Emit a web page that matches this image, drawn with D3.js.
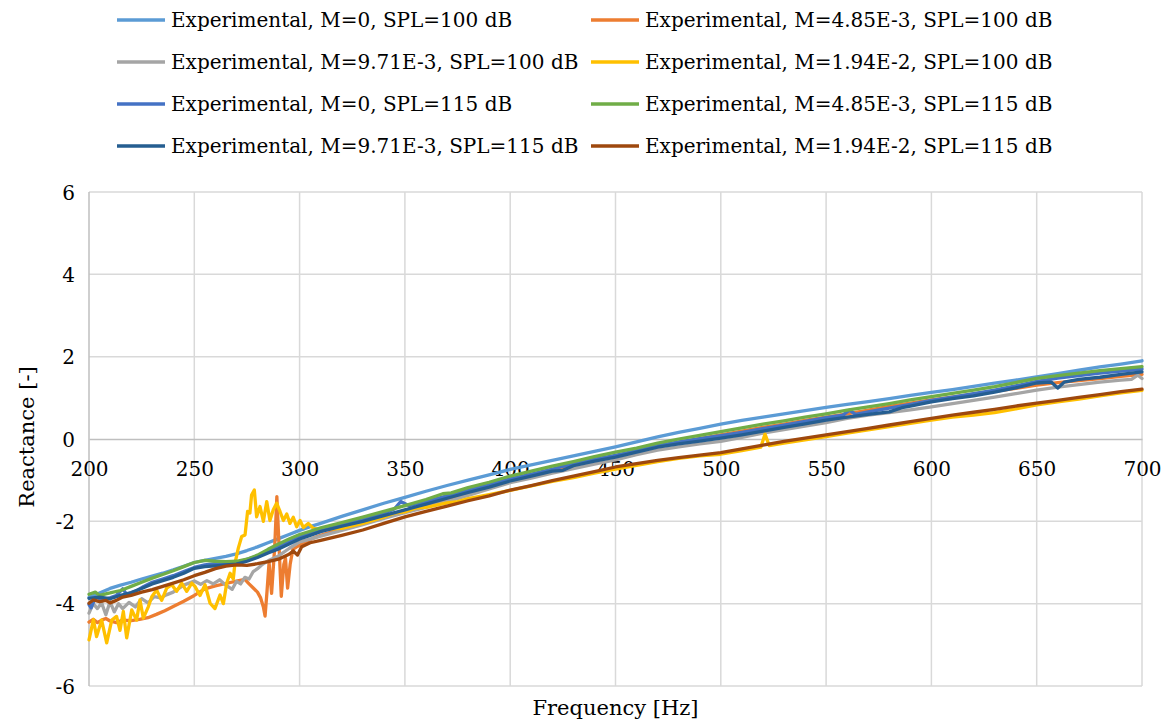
<!DOCTYPE html>
<html>
<head>
<meta charset="utf-8">
<script src="https://cdn.jsdelivr.net/npm/d3@7"></script>
<style>
  body { margin: 0; background: #fff; }
  svg { display: block; }
  text { font-family: "DejaVu Serif", "Liberation Serif", serif; fill: #000; }
</style>
</head>
<body>
<svg id="chart" width="1170" height="721"></svg>
<script>
// Axis ticks
const xTicks = [200, 250, 300, 350, 400, 450, 500, 550, 600, 650, 700];
const yTicks = [-6, -4, -2, 0, 2, 4, 6];

// Series labels and colours (legend order)
const seriesNames = [
  "Experimental, M=0, SPL=100 dB",
  "Experimental, M=4.85E-3, SPL=100 dB",
  "Experimental, M=9.71E-3, SPL=100 dB",
  "Experimental, M=1.94E-2, SPL=100 dB",
  "Experimental, M=0, SPL=115 dB",
  "Experimental, M=4.85E-3, SPL=115 dB",
  "Experimental, M=9.71E-3, SPL=115 dB",
  "Experimental, M=1.94E-2, SPL=115 dB"
];
const seriesColors = ["#5B9BD5", "#ED7D31", "#A5A5A5", "#FFC000", "#4472C4", "#70AD47", "#255E91", "#9E480E"];

// Measured reactance, [frequency Hz, reactance]
const m0_100 = [[200,-3.85],[205,-3.74],[210,-3.63],[215,-3.55],[220,-3.48],[225,-3.40],[230,-3.33],[235,-3.26],[240,-3.18],[245,-3.09],[250,-3.00],[255,-2.95],[260,-2.90],[265,-2.85],[270,-2.79],[275,-2.71],[280,-2.62],[285,-2.52],[290,-2.42],[295,-2.32],[300,-2.22],[305,-2.13],[310,-2.05],[320,-1.88],[330,-1.72],[340,-1.56],[350,-1.42],[360,-1.27],[370,-1.13],[380,-1.00],[390,-0.87],[400,-0.74],[410,-0.63],[420,-0.52],[430,-0.41],[440,-0.30],[450,-0.19],[460,-0.07],[470,0.05],[480,0.16],[490,0.26],[500,0.36],[510,0.45],[520,0.53],[530,0.61],[540,0.69],[550,0.77],[560,0.84],[570,0.91],[580,0.98],[590,1.06],[600,1.13],[610,1.20],[620,1.28],[630,1.36],[640,1.43],[650,1.51],[660,1.59],[670,1.67],[680,1.75],[690,1.82],[700,1.90]];

const m485_100 = [[200,-4.45],[202,-4.38],[204,-4.46],[206,-4.40],[208,-4.36],[210,-4.42],[213,-4.46],[216,-4.40],[220,-4.41],[224,-4.38],[228,-4.34],[232,-4.26],[236,-4.17],[240,-4.07],[245,-3.94],[250,-3.80],[255,-3.64],[260,-3.57],[265,-3.51],[270,-3.45],[274,-3.41],[276,-3.52],[278,-3.62],[280,-3.72],[281.5,-3.86],[282.8,-4.08],[283.6,-4.30],[284.5,-3.72],[285.5,-3.00],[286.7,-3.75],[288.2,-2.60],[289.2,-1.40],[290.2,-2.55],[291.3,-3.82],[292.5,-3.05],[293.3,-2.90],[294.3,-3.62],[295.5,-3.05],[296.8,-2.68],[298.6,-2.62],[300,-2.58],[303,-2.50],[306,-2.42],[310,-2.34],[320,-2.18],[330,-2.04],[340,-1.90],[350,-1.77],[360,-1.62],[370,-1.48],[380,-1.33],[390,-1.18],[400,-1.03],[410,-0.90],[420,-0.78],[430,-0.64],[440,-0.53],[450,-0.41],[460,-0.30],[470,-0.19],[480,-0.09],[490,0.01],[500,0.10],[510,0.19],[520,0.28],[530,0.36],[540,0.45],[550,0.53],[560,0.61],[570,0.70],[580,0.79],[590,0.87],[600,0.95],[610,1.02],[620,1.09],[630,1.16],[640,1.23],[650,1.31],[660,1.37],[670,1.42],[680,1.47],[690,1.52],[700,1.57]];

const m971_100 = [[200,-4.23],[202,-4.00],[204,-4.12],[206,-3.98],[208,-4.27],[210,-3.95],[212,-4.20],[214,-4.00],[216,-4.12],[219,-3.97],[222,-4.08],[225,-3.88],[228,-3.98],[231,-3.83],[234,-3.86],[237,-3.78],[240,-3.72],[245,-3.55],[250,-3.45],[253,-3.53],[256,-3.44],[259,-3.52],[262,-3.42],[265,-3.55],[268,-3.65],[270,-3.46],[272,-3.52],[274,-3.36],[276,-3.40],[278,-3.22],[280,-3.15],[282,-3.06],[285,-2.96],[290,-2.84],[295,-2.66],[300,-2.50],[305,-2.43],[310,-2.36],[320,-2.22],[330,-2.08],[340,-1.93],[350,-1.79],[360,-1.66],[370,-1.52],[380,-1.37],[390,-1.21],[400,-1.06],[410,-0.95],[420,-0.83],[430,-0.72],[440,-0.61],[450,-0.51],[460,-0.38],[470,-0.27],[480,-0.19],[490,-0.12],[500,-0.06],[510,0.04],[520,0.14],[530,0.23],[540,0.31],[550,0.40],[560,0.50],[570,0.58],[580,0.64],[590,0.71],[600,0.78],[610,0.86],[620,0.94],[630,1.02],[640,1.10],[650,1.19],[660,1.26],[670,1.32],[680,1.38],[690,1.43],[695,1.45],[698,1.55],[700,1.47]];

const m194_100 = [[200,-4.88],[202.1,-4.39],[203.6,-4.80],[206,-4.40],[208.4,-4.95],[210.8,-4.40],[213.1,-4.31],[214.7,-4.65],[216.3,-4.19],[217.9,-4.83],[220.3,-4.15],[222.6,-4.40],[224.2,-3.91],[225.8,-4.35],[228.2,-4.07],[229.8,-3.83],[232.1,-3.67],[234.5,-3.92],[236.9,-3.62],[239.3,-3.54],[241.6,-3.70],[244,-3.50],[246.4,-3.70],[248.8,-3.50],[250.3,-3.58],[252.7,-3.80],[255.1,-3.54],[257.5,-3.99],[259.8,-4.12],[262.2,-3.79],[263.8,-4.00],[265.4,-3.50],[267,-3.26],[268.5,-3.40],[269.3,-3.02],[270.9,-2.65],[272.5,-2.37],[274.1,-2.33],[275.3,-1.76],[276.4,-1.80],[277.2,-1.36],[278.5,-1.24],[279.6,-1.89],[281.2,-1.64],[282.8,-2.00],[284.4,-1.52],[285.9,-1.98],[287.5,-1.72],[289.1,-1.56],[290.7,-1.76],[292.3,-1.98],[293.9,-1.82],[295.4,-2.05],[297,-1.90],[298.6,-2.13],[300.2,-1.98],[301.8,-2.15],[304.1,-2.05],[306.5,-2.17],[310,-2.20],[320,-2.17],[330,-2.05],[340,-1.90],[345,-1.80],[350,-1.77],[355,-1.68],[360,-1.66],[370,-1.55],[375,-1.52],[380,-1.45],[390,-1.35],[400,-1.25],[410,-1.14],[420,-1.03],[430,-0.94],[440,-0.83],[450,-0.73],[460,-0.64],[470,-0.55],[480,-0.47],[490,-0.41],[500,-0.37],[510,-0.28],[519,-0.20],[521,0.12],[523,-0.16],[530,-0.10],[540,-0.02],[550,0.06],[560,0.14],[570,0.22],[580,0.30],[590,0.38],[600,0.46],[610,0.53],[620,0.58],[630,0.64],[640,0.73],[650,0.83],[660,0.90],[670,0.97],[680,1.05],[690,1.12],[700,1.18]];

const m0_115 = [[200,-4.02],[201,-4.10],[203,-3.85],[207,-3.90],[210,-3.86],[213,-3.80],[216,-3.64],[218,-3.78],[222,-3.70],[226,-3.58],[230,-3.48],[235,-3.40],[240,-3.32],[245,-3.22],[250,-3.12],[255,-3.06],[260,-3.03],[265,-3.02],[270,-3.00],[275,-2.92],[280,-2.84],[285,-2.72],[290,-2.62],[295,-2.50],[300,-2.38],[305,-2.28],[310,-2.20],[320,-2.08],[330,-1.95],[340,-1.80],[345,-1.70],[348,-1.52],[352,-1.62],[360,-1.52],[370,-1.38],[380,-1.24],[390,-1.11],[400,-0.97],[410,-0.85],[420,-0.73],[430,-0.60],[440,-0.49],[450,-0.40],[460,-0.28],[470,-0.16],[480,-0.07],[490,0.01],[500,0.08],[510,0.16],[520,0.25],[530,0.34],[540,0.43],[550,0.52],[558,0.58],[561,0.70],[564,0.60],[570,0.66],[580,0.75],[590,0.84],[600,0.94],[610,1.02],[620,1.10],[630,1.19],[640,1.29],[650,1.40],[660,1.48],[670,1.54],[680,1.60],[690,1.65],[700,1.70]];

const m485_115 = [[200,-3.77],[203,-3.72],[205,-3.80],[208,-3.76],[210,-3.74],[215,-3.68],[220,-3.58],[225,-3.48],[230,-3.38],[235,-3.29],[240,-3.20],[245,-3.10],[250,-3.00],[255,-2.95],[260,-2.97],[265,-2.98],[270,-2.97],[275,-2.92],[280,-2.82],[285,-2.68],[290,-2.55],[295,-2.43],[300,-2.32],[305,-2.24],[310,-2.16],[320,-2.03],[330,-1.90],[340,-1.76],[350,-1.62],[360,-1.47],[368,-1.33],[372,-1.31],[380,-1.18],[390,-1.05],[400,-0.90],[410,-0.78],[420,-0.66],[430,-0.55],[440,-0.43],[450,-0.32],[460,-0.22],[470,-0.10],[480,0.00],[490,0.09],[500,0.18],[510,0.27],[520,0.36],[530,0.44],[540,0.53],[550,0.61],[560,0.70],[570,0.78],[580,0.86],[590,0.95],[600,1.03],[610,1.11],[620,1.19],[630,1.27],[640,1.37],[650,1.47],[660,1.54],[670,1.60],[680,1.66],[690,1.71],[700,1.76]];

const m971_115 = [[200,-3.87],[205,-3.84],[210,-3.88],[215,-3.80],[220,-3.73],[225,-3.63],[230,-3.52],[235,-3.44],[240,-3.36],[245,-3.26],[250,-3.14],[255,-3.10],[260,-3.08],[265,-3.06],[270,-3.04],[275,-2.97],[280,-2.88],[285,-2.77],[290,-2.67],[295,-2.55],[300,-2.43],[305,-2.34],[310,-2.25],[320,-2.12],[330,-2.00],[340,-1.86],[350,-1.72],[360,-1.58],[370,-1.44],[380,-1.30],[390,-1.17],[400,-1.02],[410,-0.90],[420,-0.78],[425,-0.76],[430,-0.65],[440,-0.54],[450,-0.44],[460,-0.32],[470,-0.20],[480,-0.12],[490,-0.05],[500,0.02],[510,0.10],[520,0.19],[530,0.28],[540,0.37],[550,0.46],[560,0.53],[570,0.60],[580,0.66],[586,0.76],[590,0.80],[600,0.90],[610,0.98],[620,1.05],[630,1.14],[640,1.24],[650,1.36],[657,1.38],[660,1.24],[663,1.38],[670,1.45],[680,1.50],[690,1.57],[700,1.63]];

const m194_115 = [[200,-3.99],[202,-3.91],[205,-3.95],[208,-3.92],[210,-3.98],[213,-3.92],[216,-3.84],[220,-3.80],[225,-3.72],[230,-3.66],[235,-3.58],[240,-3.50],[245,-3.42],[250,-3.32],[255,-3.24],[260,-3.15],[265,-3.09],[270,-3.06],[275,-3.07],[280,-3.03],[285,-2.98],[290,-2.92],[295,-2.80],[297,-2.72],[299,-2.82],[301,-2.62],[305,-2.52],[310,-2.46],[320,-2.34],[330,-2.21],[340,-2.05],[350,-1.89],[360,-1.76],[370,-1.63],[380,-1.50],[390,-1.38],[400,-1.24],[410,-1.13],[420,-1.01],[430,-0.90],[440,-0.79],[450,-0.68],[460,-0.60],[470,-0.52],[480,-0.45],[490,-0.39],[500,-0.33],[510,-0.24],[520,-0.15],[530,-0.06],[540,0.02],[550,0.10],[560,0.18],[570,0.26],[580,0.34],[590,0.42],[600,0.50],[610,0.58],[620,0.65],[630,0.72],[640,0.80],[650,0.87],[660,0.94],[670,1.01],[680,1.08],[690,1.15],[700,1.21]];

const seriesData = [m0_100, m485_100, m971_100, m194_100, m0_115, m485_115, m971_115, m194_115];

// Layout
const svg = d3.select("#chart");
const plot = { left: 89, right: 1142, top: 192, bottom: 686 };

const x = d3.scaleLinear().domain([200, 700]).range([plot.left, plot.right]);
const y = d3.scaleLinear().domain([-6, 6]).range([plot.bottom, plot.top]);

// Gridlines
const grid = svg.append("g").attr("class", "grid");
grid.selectAll("line.v").data(xTicks.slice(1)).join("line")
  .attr("x1", d => x(d)).attr("x2", d => x(d))
  .attr("y1", plot.top).attr("y2", plot.bottom)
  .attr("stroke", "#d9d9d9").attr("stroke-width", 1.5);
grid.selectAll("line.h").data(yTicks.filter(d => d !== 0)).join("line")
  .attr("x1", plot.left).attr("x2", plot.right)
  .attr("y1", d => y(d)).attr("y2", d => y(d))
  .attr("stroke", "#d9d9d9").attr("stroke-width", 1.5);

// Vertical axis line
svg.append("line")
  .attr("x1", plot.left).attr("x2", plot.left)
  .attr("y1", plot.top).attr("y2", plot.bottom)
  .attr("stroke", "#bfbfbf").attr("stroke-width", 1.5);

// Horizontal axis crosses at zero
const xAxis = d3.axisBottom(x).tickValues(xTicks).tickSize(0).tickPadding(0).tickFormat(d3.format("d"));
const xg = svg.append("g").attr("transform", `translate(0,${y(0)})`).call(xAxis);
xg.select(".domain").attr("stroke", "#bfbfbf").attr("stroke-width", 1.5);
xg.selectAll("text").attr("font-size", 20).attr("font-family", "DejaVu Serif")
  .attr("y", 0).attr("dy", "1.85em").attr("fill", "#000");

const yAxis = d3.axisLeft(y).tickValues(yTicks).tickSize(0).tickPadding(0).tickFormat(d3.format("d"));
const yg = svg.append("g").attr("transform", `translate(${plot.left - 14},0)`).call(yAxis);
yg.select(".domain").remove();
yg.selectAll("text").attr("font-size", 20).attr("font-family", "DejaVu Serif")
  .attr("x", 0).attr("dy", "0.36em").attr("fill", "#000")
  .text(d => d < 0 ? "-" + Math.abs(d) : d);

// Axis titles
svg.append("text")
  .attr("x", (plot.left + plot.right) / 2).attr("y", 715)
  .attr("text-anchor", "middle").attr("font-size", 21)
  .text("Frequency [Hz]");
svg.append("text")
  .attr("transform", `translate(34,${(plot.top + plot.bottom) / 2 - 2}) rotate(-90)`)
  .attr("text-anchor", "middle").attr("font-size", 21)
  .text("Reactance [-]");

// Series lines
const line = d3.line().x(d => x(d[0])).y(d => y(d[1]));
svg.append("g").selectAll("path").data(seriesData).join("path")
  .attr("d", line)
  .attr("fill", "none")
  .attr("stroke", (d, i) => seriesColors[i])
  .attr("stroke-width", 3.3)
  .attr("stroke-linejoin", "round")
  .attr("stroke-linecap", "round");

// Legend, two columns
const legendCols = [117, 591];
const legendRow0 = 20, legendRowStep = 42;
const legend = svg.append("g").selectAll("g").data(seriesNames).join("g")
  .attr("transform", (d, i) => `translate(${legendCols[i % 2]},${legendRow0 + Math.floor(i / 2) * legendRowStep})`);
legend.append("line")
  .attr("x1", 0).attr("x2", 48).attr("y1", 0).attr("y2", 0)
  .attr("stroke", (d, i) => seriesColors[i]).attr("stroke-width", 3.3);
legend.append("text")
  .attr("x", 54).attr("y", 0).attr("dy", "0.35em")
  .attr("font-size", 20)
  .text(d => d);
</script>
</body>
</html>
